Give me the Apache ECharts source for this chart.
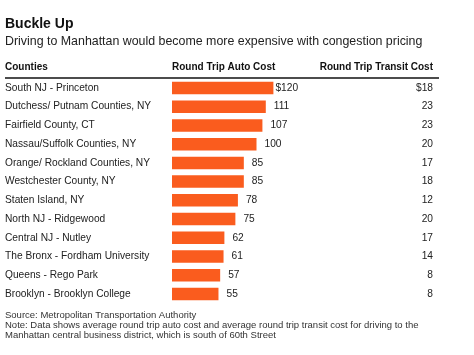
<!DOCTYPE html>
<html><head><meta charset="utf-8">
<script src="https://cdn.jsdelivr.net/npm/echarts@6/dist/echarts.min.js"></script>
<style>html,body{margin:0;padding:0;background:#fff}#c{width:474px;height:355px}</style>
</head><body><div id="c"></div>
<script>
const counties = ["South NJ - Princeton","Dutchess/ Putnam Counties, NY","Fairfield County, CT","Nassau/Suffolk Counties, NY","Orange/ Rockland Counties, NY","Westchester County, NY","Staten Island, NY","North NJ - Ridgewood","Central NJ - Nutley","The Bronx - Fordham University","Queens - Rego Park","Brooklyn - Brooklyn College"];
const autoCost = [120,111,107,100,85,85,78,75,62,61,57,55];
const transitCost = [18,23,23,20,17,18,12,20,17,14,8,8];
const headers = ["Counties","Round Trip Auto Cost","Round Trip Transit Cost"];

const FONT = "Liberation Sans, Arial, sans-serif";
const gridLeft = 172, gridTop = 78.6, rowH = 18.73;
const xMax = 140, pxPerUnit = 0.845;
const gridW = xMax * pxPerUnit;
const gridRight = gridLeft + gridW;
const transitRight = 433;

const chart = echarts.init(document.getElementById('c'), null, {renderer:'canvas'});
chart.setOption({
  animation:false,
  textStyle:{fontFamily:FONT},
  title:[
    {text:"Buckle Up", left:5, top:17, padding:0, textStyle:{fontFamily:FONT,fontSize:14,fontWeight:'bold',color:'#111'}},
    {text:"Driving to Manhattan would become more expensive with congestion pricing", left:5, top:35.5, padding:0, textStyle:{fontFamily:FONT,fontSize:12.4,fontWeight:'normal',color:'#222'}},
    {text:"Source: Metropolitan Transportation Authority\nNote: Data shows average round trip auto cost and average round trip transit cost for driving to the\nManhattan central business district, which is south of 60th Street", left:5, top:310, padding:0, textStyle:{fontFamily:FONT,fontSize:9.5,fontWeight:'normal',color:'#333',lineHeight:10}}
  ],
  graphic:[
    {type:'text', left:5, top:62, style:{text:headers[0], font:"bold 10px "+FONT, fill:'#111'}},
    {type:'text', left:172, top:62, style:{text:headers[1], font:"bold 10px "+FONT, fill:'#111'}},
    {type:'text', right:474-transitRight, top:62, style:{text:headers[2], font:"bold 10px "+FONT, fill:'#111', textAlign:'right'}},
    {type:'line', shape:{x1:5,y1:78,x2:439,y2:78}, style:{stroke:'#111', lineWidth:1.6}}
  ],
  grid:{left:gridLeft, top:gridTop, width:gridW, height:rowH*counties.length},
  xAxis:{type:'value', min:0, max:xMax, show:false},
  yAxis:[
    {type:'category', data:counties, inverse:true, position:'left',
     axisLine:{show:false}, axisTick:{show:false}, splitLine:{show:false},
     axisLabel:{align:'left', margin:gridLeft-5, fontFamily:FONT, fontSize:10.2, color:'#222'}},
    {type:'category', data:transitCost.map((v,i)=> i===0 ? '$'+v : String(v)), inverse:true, position:'right',
     axisLine:{show:false}, axisTick:{show:false}, splitLine:{show:false},
     axisLabel:{align:'right', margin:transitRight-gridRight, fontFamily:FONT, fontSize:10.2, color:'#222'}}
  ],
  series:[{
    type:'bar', yAxisIndex:0, barWidth:12.5,
    itemStyle:{color:'#fa5c1e'},
    data:autoCost.map((v,i)=>({value:v, label: i===0 ? {distance:2} : undefined})),
    label:{show:true, position:'right', distance:8, fontFamily:FONT, fontSize:10.2, color:'#222',
      formatter:p=> p.dataIndex===0 ? '$'+p.value : String(p.value)}
  }]
});
</script></body></html>
